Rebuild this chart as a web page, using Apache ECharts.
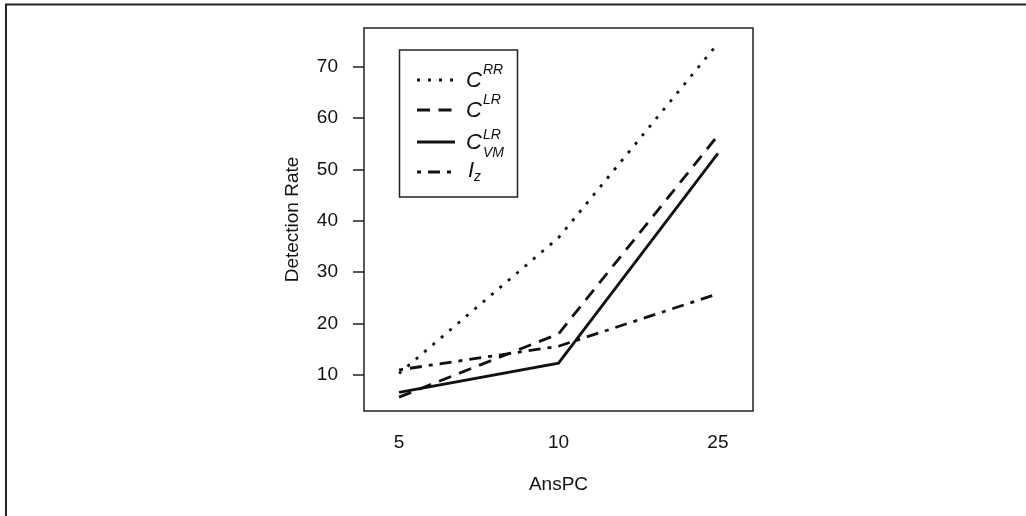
<!DOCTYPE html>
<html>
<head>
<meta charset="utf-8">
<script src="https://cdn.jsdelivr.net/npm/echarts@6/dist/echarts.min.js"></script>
<style>
html,body{margin:0;padding:0;background:#fff;}
#chart{width:1026px;height:516px;}
</style>
</head>
<body>
<div id="chart"></div>
<script>
// ---- data ----
const categories = ['5', '10', '25'];
const seriesNames = ['C^RR', 'C^LR', 'C^LR_VM', 'I_z'];
const cRR = [10.3, 36.7, 74.5];
const cLR = [5.7, 18.0, 56.6];
const cLRVM = [6.6, 12.3, 53.1];
const iZ = [11.0, 15.6, 25.8];
const yTicks = [10, 20, 30, 40, 50, 60, 70];
const xAxisTitle = 'AnsPC';
const yAxisTitle = 'Detection Rate';

// ---- styles ----
const FONT = '"Liberation Sans", Arial, sans-serif';
const INK = '#111';
const LW = 2.8;
const dashes = [[3, 8], [13, 8.5], 'solid', [4, 7, 12, 7]];
const allValues = [cRR, cLR, cLRVM, iZ];

const chart = echarts.init(document.getElementById('chart'), null, {renderer: 'canvas'});

const series = allValues.map((vals, i) => ({
  name: seriesNames[i],
  type: 'line',
  data: vals.map((v, j) => [j + 1, v]),
  symbol: 'none',
  silent: true,
  lineStyle: {color: INK, width: LW, type: dashes[i], cap: 'butt', join: 'miter'}
}));

// legend (drawn as graphics, keys use same styles as series)
const legX0 = 417, legX1 = 455;
const rowY = [80, 110, 142, 172];
const graphics = [
  {type: 'line', shape: {x1: 5, y1: 4.5, x2: 1026, y2: 4.5}, style: {stroke: '#222', lineWidth: 2}, silent: true},
  {type: 'line', shape: {x1: 6, y1: 4, x2: 6, y2: 516}, style: {stroke: '#222', lineWidth: 2}, silent: true},
  {type: 'rect', shape: {x: 399.5, y: 50, width: 118, height: 147}, style: {fill: 'none', stroke: '#222', lineWidth: 1.5}, silent: true}
];
rowY.forEach((y, i) => {
  graphics.push({type: 'line', shape: {x1: legX0, y1: y, x2: legX1, y2: y},
    style: {stroke: INK, lineWidth: LW, lineDash: dashes[i] === 'solid' ? null : dashes[i], lineCap: 'butt'}, silent: true});
});
function txt(s, x, y, size) {
  return {type: 'text', x: x, y: y, silent: true,
    style: {text: s, fill: INK, font: 'italic ' + size + 'px ' + FONT,
      textAlign: 'left', align: 'left', textVerticalAlign: 'middle', verticalAlign: 'middle'}};
}
graphics.push(txt('C', 466, 81, 22), txt('RR', 483, 70, 14));
graphics.push(txt('C', 466, 111, 22), txt('LR', 483, 100, 14));
graphics.push(txt('C', 466, 143, 22), txt('LR', 483, 135, 14), txt('VM', 483, 153, 14));
graphics.push(txt('I', 468, 171, 22), txt('z', 474, 177, 14));

chart.setOption({
  animation: false,
  backgroundColor: '#fff',
  grid: {left: 364, right: 273, top: 28, bottom: 105, show: true, borderColor: '#222', borderWidth: 1.5, backgroundColor: 'transparent'},
  xAxis: {
    type: 'value', min: 0.78, max: 3.22,
    name: xAxisTitle, nameLocation: 'middle', nameGap: 64,
    nameTextStyle: {fontFamily: FONT, fontSize: 19, color: INK},
    axisLine: {show: false}, axisTick: {show: false}, splitLine: {show: false},
    axisLabel: {customValues: [1, 2, 3], formatter: v => categories[Math.round(v) - 1],
      fontFamily: FONT, fontSize: 19, color: INK, margin: 22}
  },
  yAxis: {
    type: 'value', min: 3, max: 77.5,
    name: yAxisTitle, nameLocation: 'middle', nameGap: 62,
    nameTextStyle: {fontFamily: FONT, fontSize: 19, color: INK},
    axisLine: {show: false}, splitLine: {show: false},
    axisTick: {show: true, customValues: yTicks, length: 11, lineStyle: {color: '#222', width: 1.5}},
    axisLabel: {customValues: yTicks, fontFamily: FONT, fontSize: 19, color: INK, margin: 26}
  },
  series: series,
  graphic: graphics
});
</script>
</body>
</html>
